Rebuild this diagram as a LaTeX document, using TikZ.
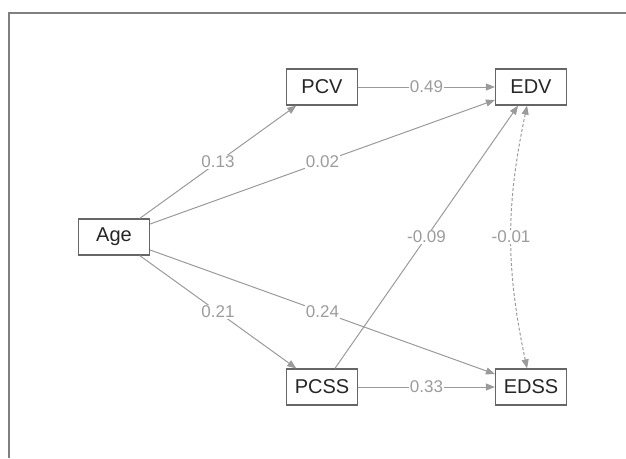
\documentclass[tikz,border=0pt]{standalone}
\usepackage{fontspec}
\setmainfont{Liberation Sans}
\usetikzlibrary{arrows.meta}
\definecolor{edgegray}{HTML}{9A9A9A}
\definecolor{boxgray}{HTML}{666666}
\definecolor{framegray}{HTML}{808080}
\definecolor{labgray}{HTML}{9C9C9C}
\begin{document}
\begin{tikzpicture}[x=1pt,y=-1pt,
  var/.style={draw=boxgray, line width=1.2pt, fill=white, minimum width=71pt, minimum height=36pt, inner sep=0pt, font=\fontsize{20}{20}\selectfont, text=black!85},
  conn/.style={draw=edgegray, line width=1pt, -{Triangle[length=9pt,width=7pt]}},
  lab/.style={fill=white, inner sep=1pt, text=labgray, font=\fontsize{17}{17}\selectfont}
]
\useasboundingbox (0,0) rectangle (626,458);
\draw[framegray, line width=2pt] (9,458) -- (9,13) -- (626,13);

\node[var] (age) at (114,237) {Age};
\node[var] (pcv) at (322,87) {PCV};
\node[var] (edv) at (531,87) {EDV};
\node[var] (pcss) at (322,387) {PCSS};
\node[var] (edss) at (531,387) {EDSS};

\draw[conn] (age) -- node[lab]{0.13} (pcv);
\draw[conn] (age) -- node[lab]{0.02} (edv);
\draw[conn] (age) -- node[lab]{0.21} (pcss);
\draw[conn] (age) -- node[lab]{0.24} (edss);
\draw[conn] (pcv) -- node[lab]{0.49} (edv);
\draw[conn] (pcss) -- node[lab]{0.33} (edss);
\draw[conn] (pcss) -- node[lab]{-0.09} (edv);
\draw[conn, dash pattern=on 3pt off 2pt, {Triangle[length=9pt,width=7pt]}-{Triangle[length=9pt,width=7pt]}] (edv) to[bend right=12] node[lab]{-0.01} (edss);
\end{tikzpicture}
\end{document}
